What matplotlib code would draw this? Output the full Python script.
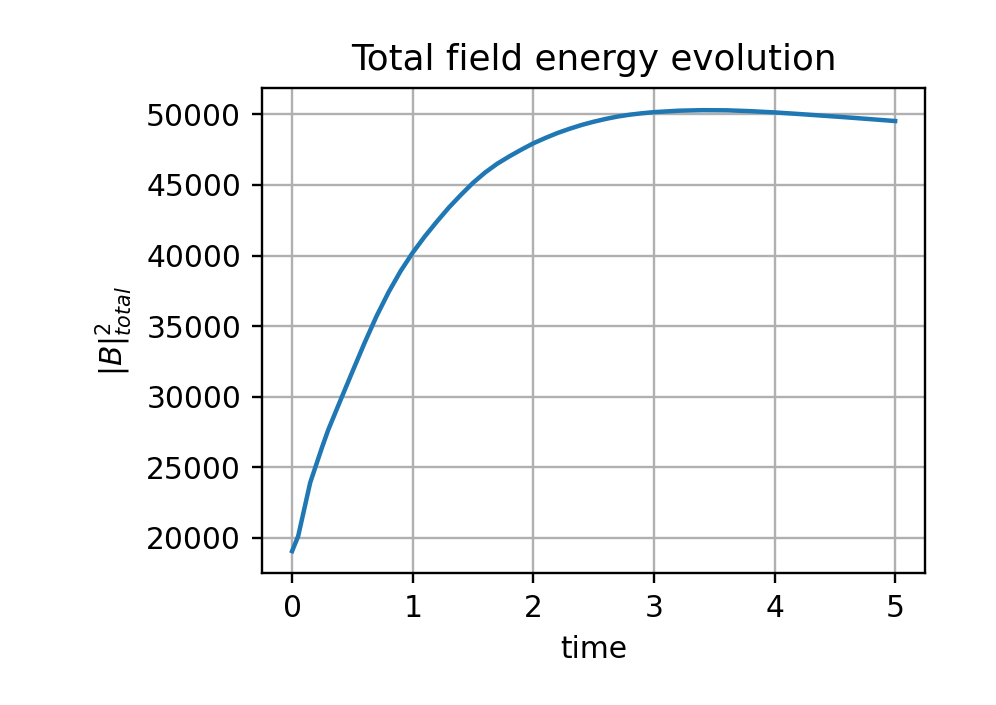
import numpy as np
import matplotlib
matplotlib.use("Agg")
import matplotlib.pyplot as plt

# values
time = [0.0, 0.05, 0.15, 0.25, 0.3, 0.4, 0.5, 0.6, 0.7, 0.8, 0.9, 1.0,
        1.1, 1.2, 1.3, 1.4, 1.5, 1.6, 1.7, 1.8, 1.9, 2.0, 2.1, 2.2, 2.3,
        2.4, 2.5, 2.6, 2.7, 2.8, 2.9, 3.0, 3.2, 3.4, 3.6, 3.8, 4.0, 4.2,
        4.4, 4.6, 4.8, 5.0]
energy = [19050, 20100, 23900, 26450, 27650, 29720, 31770, 33790, 35700,
          37400, 38900, 40200, 41350, 42400, 43400, 44300, 45150, 45880,
          46500, 47020, 47500, 47950, 48330, 48680, 48980, 49250, 49480,
          49680, 49850, 49980, 50080, 50160, 50260, 50300, 50290, 50230,
          50140, 50030, 49910, 49790, 49660, 49530]

DPI = 214
fig = plt.figure(figsize=(996 / DPI, 705 / DPI), dpi=DPI)
ax = fig.add_subplot(111)
fig.subplots_adjust(left=0.263, right=0.929, top=0.875, bottom=0.187)

ax.plot(time, energy)
ax.set_xlabel('time')
ax.set_ylabel(r'$|B|^2_{total}$')
ax.set_title('Total field energy evolution')
ax.grid()

plt.savefig('out.png', dpi=DPI)
